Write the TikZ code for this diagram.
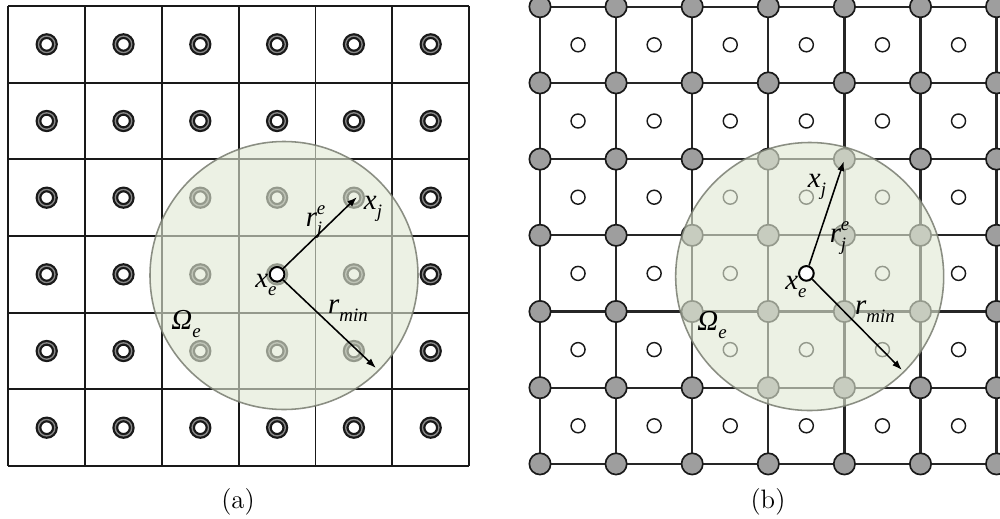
\documentclass[tikz,border=0pt]{standalone}
\usepackage{fontspec}
\newfontfamily\tms{Liberation Serif}
\usetikzlibrary{arrows.meta}
\definecolor{zone}{RGB}{225,233,212}
\definecolor{zoneedge}{RGB}{120,124,112}
\definecolor{ringgray}{RGB}{135,135,135}
\definecolor{nodegray}{RGB}{158,158,158}
\newcommand\lsub[1]{\raisebox{-0.6ex}{\fontsize{8.5}{8.5}\selectfont #1}}
\newcommand\lsup[1]{\raisebox{0.95ex}{\fontsize{8.5}{8.5}\selectfont #1}}
\tikzset{
  gridA/.style={line width=0.85pt, draw=black!90},
  gridB/.style={line width=1.0pt, draw=black!85},
  ring/.style={circle, inner sep=0pt, minimum size=7.4pt, draw=black!90, line width=1.0pt, double=ringgray, double distance=0.6pt},
  gnode/.style={circle, inner sep=0pt, minimum size=9.6pt, draw=black!90, line width=0.75pt, fill=nodegray},
  onode/.style={circle, inner sep=0pt, minimum size=6.3pt, draw=black!90, line width=0.65pt, fill=white},
  zonec/.style={circle, inner sep=0pt, minimum size=120.6pt, fill=zone, fill opacity=0.62, draw=zoneedge, draw opacity=0.85, line width=0.7pt},
  xenode/.style={circle, inner sep=0pt, minimum size=6.6pt, draw=black, line width=0.9pt, fill=white},
  arr/.style={-{Latex[length=4.5pt,width=3.2pt]}, line width=0.7pt, black},
  lab/.style={font=\tms\itshape\fontsize{13}{13}\selectfont, inner sep=0pt},
  capt/.style={font=\fontsize{12}{14}\selectfont, inner sep=0pt}
}
\begin{document}
\begin{tikzpicture}[x=0.45pt,y=-0.45pt]
\useasboundingbox (0,0) rectangle (1000,518);
\clip (0,0) rectangle (1000,518);
\fill[white] (0,0) rectangle (1000,518);
% ---------- panel (a) ----------
\foreach \i in {0,...,6} {
  \draw[gridA] ({8.3+76.8*\i},6) -- ({8.3+76.8*\i},466);
  \draw[gridA] (8.3,{6+76.67*\i}) -- (469.1,{6+76.67*\i});
}
\foreach \i in {0,...,5} \foreach \j in {0,...,5} {
  \node[ring] (ra-\i-\j) at ({8.3+76.8*(\i+0.5)},{6+76.67*(\j+0.5)}) {};
}
\node[zonec] (omA) at (284,275.5) {};
\node[xenode] (xeA) at (277.1,274.3) {};
\coordinate (xjA) at (357,197);
\coordinate (rmA) at (376,368);
\draw[arr] (xeA) -- (xjA);
\draw[arr] (xeA) -- (rmA);
\node[lab] (lxjA) at (373,209) {x\lsub{j}};
\node[lab] (lrjA) at (314,222) {r\rlap{\lsup{e}}\lsub{j}};
\node[lab] (lxeA) at (266,285) {x\lsub{e}};
\node[lab] (lrmA) at (348,311) {r\lsub{min}};
\node[lab] (lomA) at (186,324) {Ω\lsub{e}};
\node[capt] (capA) at (238,502) {(a)};
% ---------- panel (b) ----------
\foreach \i in {0,...,6} {
  \draw[gridB] ({540+76.1*\i},6.7) -- ({540+76.1*\i},464);
  \draw[gridB] (540,{6.7+76.2*\i}) -- (1000,{6.7+76.2*\i});
}
\foreach \i in {0,...,5} \foreach \j in {0,...,5} {
  \node[onode] (ob-\i-\j) at ({540+76.1*(\i+0.5)},{6.7+76.2*(\j+0.5)}) {};
}
\foreach \i in {0,...,6} \foreach \j in {0,...,6} {
  \node[gnode] (gb-\i-\j) at ({540+76.1*\i},{6.7+76.2*\j}) {};
}
\node[zonec] (omB) at (809.7,276.5) {};
\node[xenode] (xeB) at (806.4,273.4) {};
\coordinate (xjB) at (844,161);
\coordinate (rmB) at (902,370);
\draw[arr] (xeB) -- (xjB);
\draw[arr] (xeB) -- (rmB);
\node[lab] (lxjB) at (817,187) {x\lsub{j}};
\node[lab] (lrjB) at (838,238) {r\rlap{\lsup{e}}\lsub{j}};
\node[lab] (lxeB) at (796,287) {x\lsub{e}};
\node[lab] (lrmB) at (875,312) {r\lsub{min}};
\node[lab] (lomB) at (712,325) {Ω\lsub{e}};
\node[capt] (capB) at (768,502) {(b)};
\end{tikzpicture}
\end{document}
